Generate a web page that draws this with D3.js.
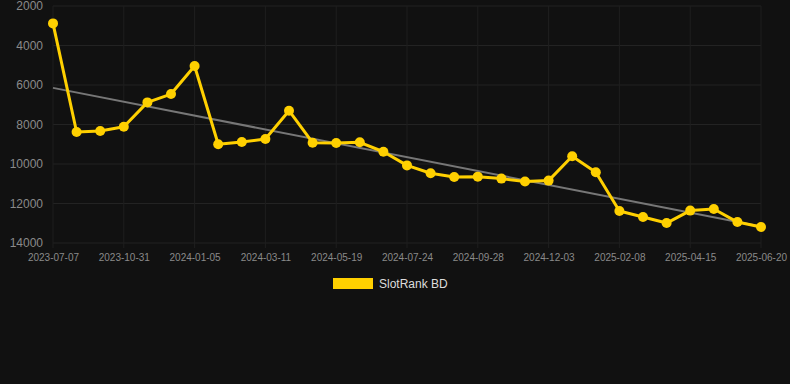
<!DOCTYPE html>
<html>
<head>
<meta charset="utf-8">
<script src="https://cdn.jsdelivr.net/npm/d3@7"></script>
<style>
  html, body { margin: 0; padding: 0; background: #111111; }
  svg { display: block; font-family: "Liberation Sans", Arial, sans-serif; }
</style>
</head>
<body>
<div id="chart"></div>
<script>
// dates of each snapshot (only every 3rd one is labelled on the axis)
var dates = [
    "2023-07-07", "2023-08-14", "2023-09-22", "2023-10-31", "2023-11-22", "2023-12-14",
    "2024-01-05", "2024-01-27", "2024-02-18", "2024-03-11", "2024-04-03", "2024-04-26",
    "2024-05-19", "2024-06-10", "2024-07-02", "2024-07-24", "2024-08-15", "2024-09-06",
    "2024-09-28", "2024-10-20", "2024-11-11", "2024-12-03", "2024-12-25", "2025-01-17",
    "2025-02-08", "2025-03-02", "2025-03-24", "2025-04-15", "2025-05-07", "2025-05-29",
    "2025-06-20"
];
var ranks = [
    2880, 8380, 8330, 8110, 6880, 6460,
    5040, 9000, 8890, 8730, 7300, 8920,
    8940, 8900, 9380, 10070, 10470, 10660,
    10640, 10740, 10890, 10840, 9610, 10420,
    12380, 12680, 12990, 12360, 12280, 12940,
    13190
];
var yTicks = [2000, 4000, 6000, 8000, 10000, 12000, 14000];
var seriesName = "SlotRank BD";

var width = 790, height = 384;
var margin = {top: 6, right: 29, bottom: 141, left: 53};
var lineColor = "#ffd000";

var svg = d3.select("#chart").append("svg")
    .attr("width", width)
    .attr("height", height);

svg.append("rect")
    .attr("width", width)
    .attr("height", height)
    .attr("fill", "#111111");

var x = d3.scalePoint()
    .domain(dates)
    .range([margin.left, width - margin.right]);

var y = d3.scaleLinear()
    .domain([2000, 14000])
    .range([margin.top, height - margin.bottom]);

var tickDates = dates.filter(function(d, i) { return i % 3 === 0; });

// grid
var grid = svg.append("g");
grid.selectAll(".hgrid").data(yTicks).enter().append("line")
    .attr("x1", margin.left).attr("x2", width - margin.right)
    .attr("y1", function(d) { return y(d); })
    .attr("y2", function(d) { return y(d); })
    .attr("stroke", "#232323").attr("stroke-width", 1);
grid.selectAll(".vgrid").data(tickDates).enter().append("line")
    .attr("x1", function(d) { return x(d); })
    .attr("x2", function(d) { return x(d); })
    .attr("y1", margin.top).attr("y2", height - margin.bottom + 5)
    .attr("stroke", "#1f1f1f").attr("stroke-width", 1);

// axes
var yAxis = svg.append("g")
    .attr("transform", "translate(" + (margin.left - 10) + ",0)")
    .call(d3.axisLeft(y).tickValues(yTicks).tickFormat(d3.format("d")).tickSize(0).tickPadding(0));
yAxis.select(".domain").remove();
yAxis.selectAll("text")
    .attr("fill", "#8a8a8a")
    .style("font-size", "12px");

var xAxis = svg.append("g")
    .attr("transform", "translate(0," + (height - margin.bottom) + ")")
    .call(d3.axisBottom(x).tickValues(tickDates).tickSize(0).tickPadding(11));
xAxis.select(".domain").remove();
xAxis.selectAll("text")
    .attr("fill", "#8a8a8a")
    .style("font-size", "10px");

// trend line (least squares over the series)
var n = ranks.length;
var mx = d3.mean(d3.range(n)), my = d3.mean(ranks);
var sxy = d3.sum(ranks, function(v, i) { return (i - mx) * (v - my); });
var sxx = d3.sum(d3.range(n), function(i) { return (i - mx) * (i - mx); });
var slope = sxy / sxx, icpt = my - slope * mx;
svg.append("line")
    .attr("x1", x(dates[0])).attr("y1", y(icpt))
    .attr("x2", x(dates[n - 1])).attr("y2", y(icpt + slope * (n - 1)))
    .attr("stroke", "#777777").attr("stroke-width", 2);

// series
var line = d3.line()
    .x(function(d, i) { return x(dates[i]); })
    .y(function(d) { return y(d); });

svg.append("path")
    .datum(ranks)
    .attr("d", line)
    .attr("fill", "none")
    .attr("stroke", lineColor)
    .attr("stroke-width", 3)
    .attr("stroke-linejoin", "round");

svg.selectAll(".dot").data(ranks).enter().append("circle")
    .attr("cx", function(d, i) { return x(dates[i]); })
    .attr("cy", function(d) { return y(d); })
    .attr("r", 5)
    .attr("fill", lineColor);

// legend
var legend = svg.append("g").attr("transform", "translate(333,278)");
legend.append("rect")
    .attr("width", 40).attr("height", 11)
    .attr("fill", lineColor);
legend.append("text")
    .attr("x", 46).attr("y", 10)
    .attr("fill", "#dddddd")
    .style("font-size", "12px")
    .text(seriesName);
</script>
</body>
</html>
